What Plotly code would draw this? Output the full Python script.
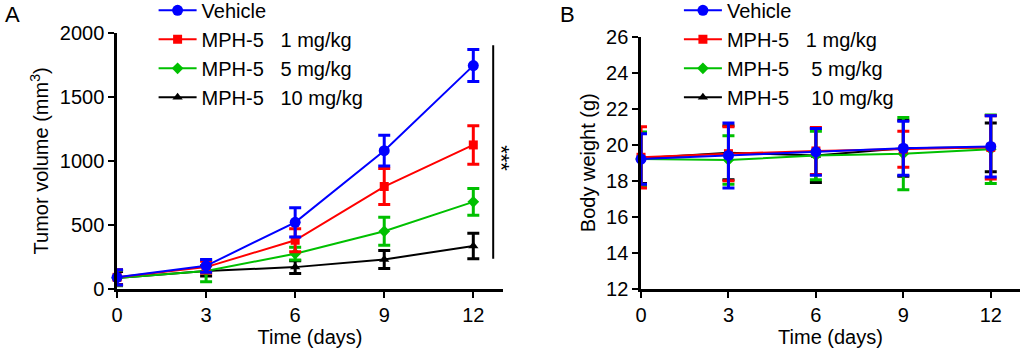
import plotly.graph_objects as go

days = [0, 3, 6, 9, 12]
series_names = ["Vehicle", "MPH-5   1 mg/kg", "MPH-5   5 mg/kg", "MPH-5   10 mg/kg"]
series_names_b = ["Vehicle", "MPH-5   1 mg/kg", "MPH-5    5 mg/kg", "MPH-5    10 mg/kg"]
colors = ["#0000ff", "#ff0000", "#00c000", "#000000"]
symbols = ["circle", "square", "diamond", "triangle-up"]

# Panel A: tumor volume (mm3)
tumor_vehicle = [90, 180, 520, 1080, 1745]
tumor_vehicle_err = [60, 50, 115, 120, 125]
tumor_1mg = [90, 170, 380, 800, 1125]
tumor_1mg_err = [60, 45, 90, 140, 150]
tumor_5mg = [85, 140, 275, 450, 680]
tumor_5mg_err = [60, 85, 50, 110, 105]
tumor_10mg = [85, 140, 170, 230, 335]
tumor_10mg_err = [50, 40, 50, 70, 100]

# Panel B: body weight (g)
bw_vehicle = [19.2, 19.4, 19.6, 19.8, 19.9]
bw_vehicle_err = [1.4, 1.8, 1.3, 1.5, 1.7]
bw_1mg = [19.3, 19.5, 19.65, 19.75, 19.85]
bw_1mg_err = [1.7, 1.5, 1.3, 1.0, 1.75]
bw_5mg = [19.2, 19.15, 19.4, 19.5, 19.75]
bw_5mg_err = [1.5, 1.35, 1.35, 2.0, 1.9]
bw_10mg = [19.25, 19.55, 19.4, 19.8, 19.85]
bw_10mg_err = [1.4, 1.5, 1.5, 1.55, 1.35]

tumor = [(tumor_vehicle, tumor_vehicle_err), (tumor_1mg, tumor_1mg_err),
         (tumor_5mg, tumor_5mg_err), (tumor_10mg, tumor_10mg_err)]
bw = [(bw_vehicle, bw_vehicle_err), (bw_1mg, bw_1mg_err),
      (bw_5mg, bw_5mg_err), (bw_10mg, bw_10mg_err)]

FONT = "Liberation Sans, Arial, sans-serif"
FS = 20
fig = go.Figure()

for i in reversed(range(4)):
    ys, es = tumor[i]
    fig.add_trace(go.Scatter(
        x=days, y=ys, name=series_names[i], mode="lines+markers",
        line=dict(color=colors[i], width=2),
        marker=dict(symbol=symbols[i], size=11 if i == 0 else 9, color=colors[i]),
        error_y=dict(type="data", array=es, color=colors[i], thickness=3, width=6),
        xaxis="x", yaxis="y", legend="legend", legendrank=i + 1,
        cliponaxis=False))
for i in reversed(range(4)):
    ys, es = bw[i]
    fig.add_trace(go.Scatter(
        x=days, y=ys, name=series_names_b[i], mode="lines+markers",
        line=dict(color=colors[i], width=2),
        marker=dict(symbol=symbols[i], size=11 if i == 0 else 9, color=colors[i]),
        error_y=dict(type="data", array=es, color=colors[i], thickness=3, width=6),
        xaxis="x2", yaxis="y2", legend="legend2", legendrank=i + 1,
        cliponaxis=False))

axis_common = dict(showline=True, linecolor="black", linewidth=2.5, ticks="outside",
                   ticklen=6, tickwidth=2, tickcolor="black", showgrid=False,
                   zeroline=False, automargin=False,
                   tickfont=dict(family=FONT, size=FS, color="black"),
                   title_font=dict(family=FONT, size=FS, color="black"))

legend_common = dict(font=dict(family=FONT, size=FS, color="black"), bgcolor="rgba(0,0,0,0)",
                     traceorder="normal", xanchor="left", yanchor="top", itemwidth=38)

fig.update_layout(
    width=1024, height=351,
    margin=dict(l=0, r=0, t=0, b=0, autoexpand=False),
    paper_bgcolor="white", plot_bgcolor="white",
    xaxis=dict(domain=[0.1143, 0.4912], range=[0, 13], tickvals=[0, 3, 6, 9, 12],
               title=dict(text="Time (days)", standoff=2), anchor="y", **axis_common),
    yaxis=dict(domain=[0.177, 0.906], range=[0, 2000], tickvals=[0, 500, 1000, 1500, 2000],
               title=dict(text="Tumor volume (mm<sup>3</sup>)", standoff=6), anchor="x", **axis_common),
    xaxis2=dict(domain=[0.626, 0.996], range=[0, 13], tickvals=[0, 3, 6, 9, 12],
                title=dict(text="Time (days)", standoff=2), anchor="y2", **axis_common),
    yaxis2=dict(domain=[0.177, 0.896], range=[12, 26], tickvals=list(range(12, 27, 2)),
                title=dict(text="Body weight (g)", standoff=6), anchor="x2", **axis_common),
    legend=dict(x=0.150, y=1.026, **legend_common),
    legend2=dict(x=0.663, y=1.026, **legend_common),
    showlegend=True,
)

fig.add_shape(type="line", xref="x", yref="y", x0=12.67, x1=12.67, y0=235, y1=1905,
              line=dict(color="black", width=2))
fig.add_annotation(xref="paper", yref="paper", x=0.489, y=0.55, text="***", showarrow=False,
                   textangle=90, font=dict(family=FONT, size=22, color="black"))
fig.add_annotation(xref="paper", yref="paper", x=0.003, y=1.0, xanchor="left", yanchor="top",
                   text="A", showarrow=False, font=dict(family=FONT, size=22, color="black"))
fig.add_annotation(xref="paper", yref="paper", x=0.545, y=1.0, xanchor="left", yanchor="top",
                   text="B", showarrow=False, font=dict(family=FONT, size=22, color="black"))

fig.write_html("out.html", config={"displayModeBar": False},
               post_script="document.body.style.margin='0';")
